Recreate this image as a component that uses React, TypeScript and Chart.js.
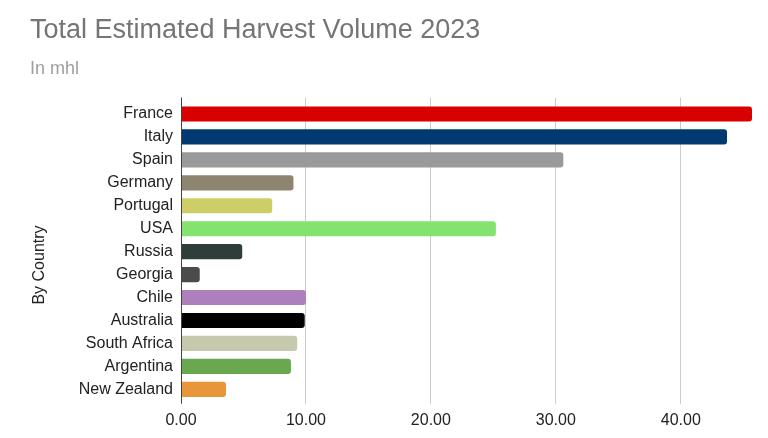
import { useEffect, useRef } from "react";
import { Chart, registerables } from "chart.js";

Chart.register(...registerables);

const COUNTRIES = [
  "France",
  "Italy",
  "Spain",
  "Germany",
  "Portugal",
  "USA",
  "Russia",
  "Georgia",
  "Chile",
  "Australia",
  "South Africa",
  "Argentina",
  "New Zealand",
];
const VOLUMES = [45.7, 43.7, 30.6, 9.0, 7.3, 25.2, 4.9, 1.5, 10.0, 9.9, 9.3, 8.8, 3.6];
const BAR_COLORS = [
  "#d90000",
  "#003a70",
  "#9a9a9a",
  "#8e8570",
  "#cdce67",
  "#84e36f",
  "#2e3e3b",
  "#4b4b4b",
  "#ae7fbd",
  "#000000",
  "#c6c9ae",
  "#6aa84f",
  "#e9953a",
];
const X_TICKS = [0, 10, 20, 30, 40];

const FONT = "Arial, 'Liberation Sans', sans-serif";
const AXIS_DARK = "#444444";
const GRID = "#cccccc";

const gridColor = (ctx: any) => (ctx.tick && ctx.tick.value === 0 ? AXIS_DARK : GRID);
const keepTicks = (axis: any) => {
  axis.ticks = axis.ticks.filter((t: any) => X_TICKS.includes(t.value));
};

export default function App() {
  const canvasRef = useRef<HTMLCanvasElement>(null);

  useEffect(() => {
    if (!canvasRef.current) return;
    const chart = new Chart(canvasRef.current, {
      type: "bar",
      data: {
        labels: COUNTRIES,
        datasets: [
          {
            data: VOLUMES,
            backgroundColor: BAR_COLORS,
            borderWidth: 0,
            borderRadius: 3,
            barPercentage: 0.66,
            categoryPercentage: 1,
          },
        ],
      },
      options: {
        indexAxis: "y",
        animation: false,
        responsive: true,
        maintainAspectRatio: false,
        layout: { padding: { left: 30, right: 6, top: 0, bottom: 0 } },
        plugins: {
          legend: { display: false },
          tooltip: { enabled: false },
          title: {
            display: true,
            text: "Total Estimated Harvest Volume 2023",
            align: "start",
            color: "#757575",
            font: { family: FONT, size: 27, weight: "normal" },
            padding: { top: 14, bottom: 0 },
          },
          subtitle: {
            display: true,
            text: "In mhl",
            align: "start",
            color: "#9e9e9e",
            font: { family: FONT, size: 18, weight: "normal" },
            padding: { top: 12, bottom: 17.5 },
          },
        },
        scales: {
          x: {
            type: "linear",
            position: "bottom",
            min: 0,
            max: 46.5,
            ticks: {
              stepSize: 10,
              color: "#222222",
              padding: 7.5,
              font: { family: FONT, size: 16 },
              callback: (v: any) => Number(v).toFixed(2),
            },
            afterBuildTicks: keepTicks,
            grid: { color: gridColor, tickLength: 3, drawTicks: true },
            border: { display: false },
          },
          x2: {
            type: "linear",
            position: "top",
            min: 0,
            max: 46.5,
            ticks: { display: false, stepSize: 10 },
            afterBuildTicks: keepTicks,
            grid: { color: gridColor, tickLength: 5, drawOnChartArea: false },
            border: { display: false },
          },
          y: {
            type: "category",
            afterFit: (s: any) => {
              s.width = 151;
            },
            ticks: {
              color: "#222222",
              padding: 8,
              font: { family: FONT, size: 16 },
            },
            grid: { display: false, drawTicks: false },
            border: { display: true, color: AXIS_DARK, width: 1, z: 1 },
            title: {
              display: true,
              text: "By Country      ",
              color: "#222222",
              font: { family: FONT, size: 16 },
              padding: { top: 0, bottom: 0 },
            },
          },
        },
      },
    });
    return () => chart.destroy();
  }, []);

  return (
    <div style={{ position: "relative", width: 768, height: 438, background: "#ffffff" }}>
      <style>{`body{margin:0}`}</style>
      <canvas ref={canvasRef} role="img" aria-label="Total estimated harvest volume 2023 by country, in mhl" />
    </div>
  );
}
